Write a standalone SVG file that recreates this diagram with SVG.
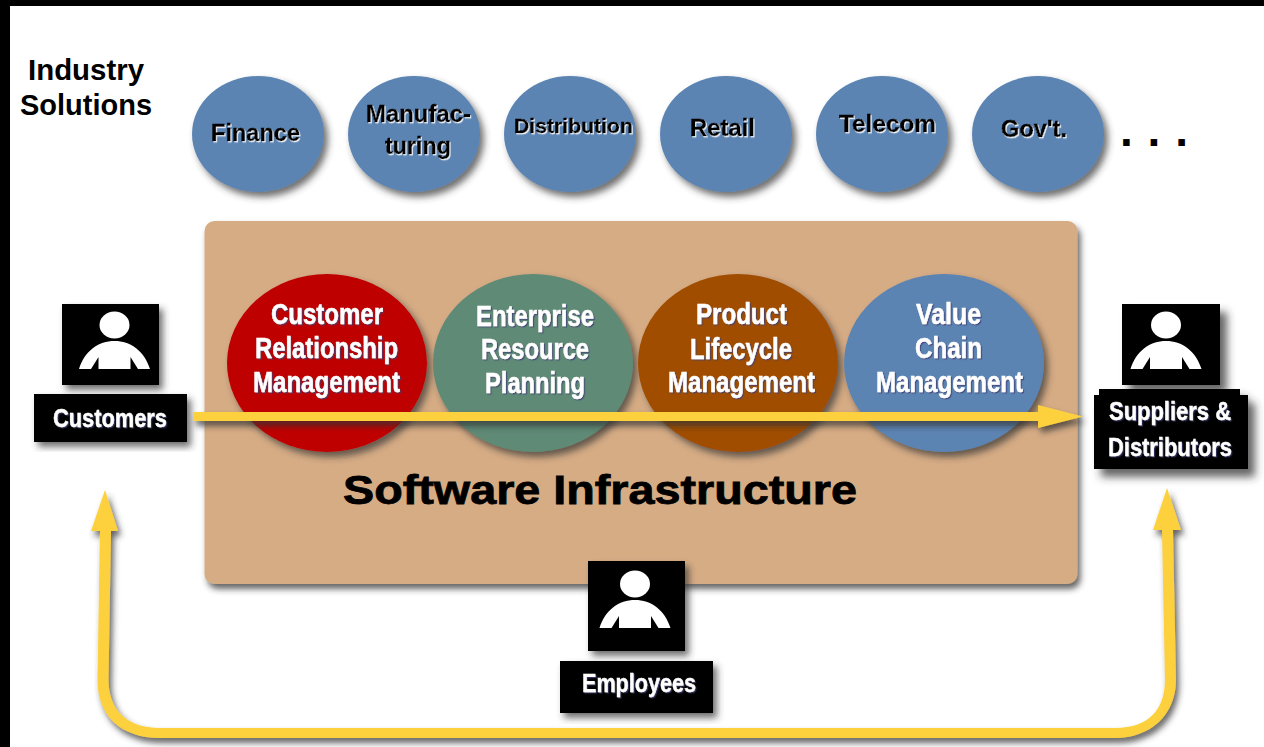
<svg xmlns="http://www.w3.org/2000/svg" xmlns:xlink="http://www.w3.org/1999/xlink" width="1264" height="747" viewBox="0 0 1264 747">
<defs>
<filter id="sh" x="-15%" y="-15%" width="135%" height="135%"><feDropShadow dx="4" dy="5" stdDeviation="3.500" flood-color="#333" flood-opacity=".7"/></filter>
<filter id="shl" x="-15%" y="-15%" width="140%" height="140%"><feDropShadow dx="7" dy="8" stdDeviation="4" flood-color="#333" flood-opacity=".75"/></filter>
<filter id="shw" x="-5%" y="-5%" width="110%" height="110%"><feDropShadow dx="3" dy="5" stdDeviation="3" flood-color="#333" flood-opacity=".75"/></filter>
<filter id="tw" x="-5%" y="-10%" width="110%" height="120%"><feDropShadow dx="1" dy="1.200" stdDeviation=".4" flood-color="#fff" flood-opacity=".9"/></filter>
<filter id="tk" x="-5%" y="-10%" width="110%" height="120%"><feDropShadow dx="1.200" dy="1.200" stdDeviation=".6" flood-color="#3c3c78" flood-opacity=".8"/></filter>
<g id="person"><ellipse cx="0" cy="0" rx="15" ry="13.500" fill="#fff"/><path fill="#fff" d="M-35.500,44C-30,26-16,16 0,16C16,16 30,26 35.500,44H23.500L16,32V44H-16V32L-23.500,44Z"/></g>
<style>
text{font-family:"Liberation Sans",Arial,sans-serif;font-weight:700;text-anchor:start}
.ind{fill:#5b84b3;filter:url(#sh)}
.ci{font-size:23px;fill:#000;stroke:#000;stroke-width:.4px;filter:url(#tw)}
.ct{font-size:29px;fill:#fff;stroke:#fff;stroke-width:.5px;filter:url(#tk)}
.lb{font-size:26px;fill:#fff;stroke:#fff;stroke-width:.4px;filter:url(#tk)}
.big{filter:url(#sh)}
.boxsh{filter:url(#sh)}
.boxl{filter:url(#shl)}
</style>
</defs>
<rect width="1264" height="747" fill="#fff"/>
<path d="M0,0H1264V6H10V747H0Z" fill="#000"/>
<g id="industry-label"><text x="28" y="80" font-size="29" textLength="116" lengthAdjust="spacingAndGlyphs">Industry</text><text x="20" y="115" font-size="29" textLength="132" lengthAdjust="spacingAndGlyphs">Solutions</text></g>
<g id="finance"><ellipse class="ind" cx="258" cy="134" rx="66" ry="58"/><text class="ci" x="211" y="141" textLength="89" lengthAdjust="spacingAndGlyphs">Finance</text></g>
<g id="manufacturing"><ellipse class="ind" cx="414" cy="134" rx="66" ry="58"/><text class="ci" x="366" y="122" textLength="105" lengthAdjust="spacingAndGlyphs">Manufac-</text><text class="ci" x="385" y="154" textLength="66" lengthAdjust="spacingAndGlyphs">turing</text></g>
<g id="distribution"><ellipse class="ind" cx="570" cy="134" rx="66" ry="58"/><text class="ci" x="514" y="133" style="font-size:21px" textLength="119" lengthAdjust="spacingAndGlyphs">Distribution</text></g>
<g id="retail"><ellipse class="ind" cx="726" cy="134" rx="66" ry="58"/><text class="ci" x="690" y="136" textLength="65" lengthAdjust="spacingAndGlyphs">Retail</text></g>
<g id="telecom"><ellipse class="ind" cx="882" cy="134" rx="66" ry="58"/><text class="ci" x="839" y="132" textLength="97" lengthAdjust="spacingAndGlyphs">Telecom</text></g>
<g id="govt"><ellipse class="ind" cx="1038" cy="134" rx="66" ry="58"/><text class="ci" x="1001" y="137" textLength="66" lengthAdjust="spacingAndGlyphs">Gov't.</text></g>
<g id="ellipsis"><text x="1120" y="146" font-size="46" textLength="68">. . .</text></g>
<g id="software-infrastructure"><rect x="204.500" y="221" width="873" height="363" rx="10" fill="#d6ac85" filter="url(#shw)"/><text x="343" y="504" font-size="41" stroke="#000" stroke-width=".8" textLength="514" lengthAdjust="spacingAndGlyphs">Software Infrastructure</text></g>
<g id="crm"><ellipse class="big" cx="327" cy="363" rx="100" ry="89" fill="#bf0000"/><text class="ct" x="271" y="324" textLength="112" lengthAdjust="spacingAndGlyphs">Customer</text><text class="ct" x="255" y="358" textLength="143" lengthAdjust="spacingAndGlyphs">Relationship</text><text class="ct" x="253" y="392" textLength="147" lengthAdjust="spacingAndGlyphs">Management</text></g>
<g id="erp"><ellipse class="big" cx="533" cy="363" rx="100" ry="89" fill="#5f8a76"/><text class="ct" x="476" y="326" textLength="118" lengthAdjust="spacingAndGlyphs">Enterprise</text><text class="ct" x="481" y="359" textLength="108" lengthAdjust="spacingAndGlyphs">Resource</text><text class="ct" x="485" y="393" textLength="100" lengthAdjust="spacingAndGlyphs">Planning</text></g>
<g id="plm"><ellipse class="big" cx="738" cy="363" rx="100" ry="89" fill="#a04e00"/><text class="ct" x="696" y="324" textLength="91" lengthAdjust="spacingAndGlyphs">Product</text><text class="ct" x="690" y="359" textLength="102" lengthAdjust="spacingAndGlyphs">Lifecycle</text><text class="ct" x="668" y="392" textLength="147" lengthAdjust="spacingAndGlyphs">Management</text></g>
<g id="vcm"><ellipse class="big" cx="944" cy="363" rx="100" ry="89" fill="#5b84b3"/><text class="ct" x="916" y="324" textLength="65" lengthAdjust="spacingAndGlyphs">Value</text><text class="ct" x="915" y="358" textLength="67" lengthAdjust="spacingAndGlyphs">Chain</text><text class="ct" x="876" y="392" textLength="147" lengthAdjust="spacingAndGlyphs">Management</text></g>
<g id="customers"><rect class="boxsh" x="62" y="304" width="97" height="81"/><use href="#person" xlink:href="#person" x="114.500" y="325"/><rect class="boxsh" x="34" y="394" width="153" height="48"/><text class="lb" x="53" y="427" textLength="114" lengthAdjust="spacingAndGlyphs">Customers</text></g>
<g id="suppliers"><rect class="boxl" x="1122" y="304" width="98" height="81"/><use href="#person" xlink:href="#person" x="1166" y="325"/><path class="boxl" d="M1099,389H1240V395H1248V469H1094V395H1099Z"/><text class="lb" x="1109" y="420" textLength="122" lengthAdjust="spacingAndGlyphs">Suppliers &amp;</text><text class="lb" x="1108" y="456" textLength="124" lengthAdjust="spacingAndGlyphs">Distributors</text></g>
<g id="employees"><rect class="boxsh" x="588" y="561" width="97" height="90"/><use href="#person" xlink:href="#person" x="635" y="584"/><rect class="boxsh" x="560" y="661" width="153" height="52"/><text class="lb" x="582" y="692" textLength="114" lengthAdjust="spacingAndGlyphs">Employees</text></g>
<g id="connectors" fill="#fdd03c" filter="url(#shw)">
<path d="M193,412H1038V405L1083,416.500L1038,428V421H193Z"/>
<path d="M105,490L118,531H111L108.500,680C108.500,708 125,728 160,728H1115C1150,728 1165,708 1165,680L1162,530H1153L1167,488L1181,530H1173L1176,680C1176,715 1150,738 1115,738H160C120,738 97.500,715 97.500,680L100,531H91Z"/>
</g>
</svg>
